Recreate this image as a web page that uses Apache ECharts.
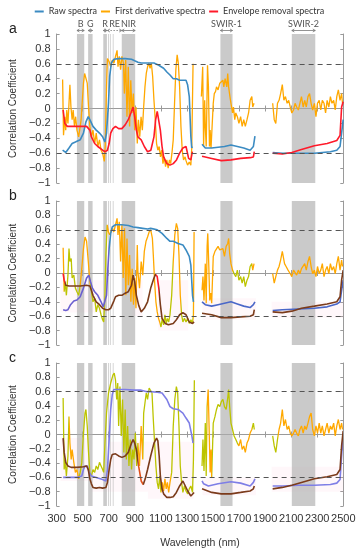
<!DOCTYPE html>
<html><head><meta charset="utf-8">
<script src="https://cdn.jsdelivr.net/npm/echarts@6/dist/echarts.min.js"></script>
<style>html,body{margin:0;padding:0;background:#fff}#c{width:359px;height:550px}</style>
</head><body><div id="c"></div>
<script>
// ---------- data ----------
const xTicks = [300,500,700,900,1100,1300,1500,1700,1900,2100,2300,2500];
const seriesNames = ['Raw spectra','First derivative spectra','Envelope removal spectra'];
const panelLetters = ['a','b','c'];
const bands = [[456,512],[542,576],[658,686],[695,701],[709,715],[731,737],[800,903],[1557,1650],[2105,2285]];
const bandLabels = [['B',456,512],['G',542,576],['R',658,686],['RE',690,800],['NIR',800,903],['SWIR-1',1557,1650],['SWIR-2',2105,2285]];
const thresholds = [0.6,-0.6];
const pinkB = [[330,700,-0.55,-0.1],[880,960,-0.6,-0.1],[1080,1310,-0.8,-0.1],[1420,1830,-0.65,-0.35],[1950,2500,-0.62,-0.4]];
const pinkC = [[330,560,-0.65,-0.05],[560,700,-0.8,-0.5],[700,1000,-0.8,-0.1],[1000,1350,-0.9,-0.1],[1420,1830,-0.85,-0.6],[1950,2500,-0.8,-0.45]];

const rawA = [[346,-0.56],[370,-0.59],[395,-0.53],[419,-0.47],[444,-0.45],[481,-0.42],[506,-0.33],[525,-0.18],[543,-0.11],[555,-0.15],[579,-0.24],[604,-0.29],[629,-0.33],[653,-0.38],[670,-0.45],[683,-0.33],[698,0.07],[707,0.43],[720,0.61],[739,0.66],[776,0.67],[826,0.67],[875,0.66],[899,0.64],[924,0.62],[949,0.61],[998,0.61],[1047,0.61],[1084,0.58],[1121,0.54],[1146,0.49],[1170,0.45],[1195,0.40],[1220,0.40],[1244,0.38],[1269,0.38],[1293,0.38],[1305,0.32],[1318,0.16],[1323,-0.06],[1330,-0.37],[1337,-0.53],[1342,-0.51],
[1380,'-'],
[1416,-0.48],[1441,-0.53],[1490,-0.53],[1539,-0.52],[1588,-0.51],[1638,-0.49],[1687,-0.51],[1736,-0.53],[1785,-0.56],[1798,-0.58],[1810,-0.51],[1822,-0.37],
[1890,'-'],
[1958,-0.59],[2032,-0.60],[2155,-0.60],[2278,-0.60],[2401,-0.58],[2450,-0.56],[2475,-0.51],[2487,-0.33],[2499,-0.15]];

const derivA = [[346,0.39],[353,-0.36],[363,-0.11],[370,-0.29],[378,-0.02],[387,-0.20],[395,0.07],[402,0.32],[410,0.02],[419,-0.15],[427,-0.02],[437,-0.24],[446,-0.11],[456,-0.29],[469,-0.38],[481,-0.24],[488,-0.15],[496,0.07],[506,0.34],[515,0.47],[525,0.49],[535,0.34],[545,0.02],[555,-0.24],[567,-0.38],[579,-0.29],[592,-0.47],[604,-0.33],[616,-0.51],[629,-0.42],[641,-0.56],[653,-0.60],[666,-0.71],[673,-0.51],[683,0.29],[690,0.67],[703,0.63],[715,0.56],[727,0.65],[740,0.61],[752,0.70],[764,0.78],[771,0.56],[781,0.70],[791,0.52],[801,0.70],[813,0.61],[820,0.20],[830,0.65],[840,-0.11],[850,0.56],[860,-0.24],[869,0.38],[879,-0.06],[889,0.20],[899,-0.29],[909,0.02],[919,-0.47],[928,-0.15],[938,-0.38],[948,-0.11],[958,-0.29],[968,0.02],[978,0.29],[988,0.47],[998,0.56],[1008,0.61],[1017,0.54],[1027,0.61],[1037,0.43],[1047,0.11],[1057,-0.15],[1067,-0.47],[1077,-0.56],[1087,-0.51],[1097,-0.65],[1106,-0.56],[1116,-0.74],[1126,-0.65],[1136,-0.78],[1146,-0.69],[1156,-0.80],[1166,-0.69],[1175,-0.74],[1185,-0.60],[1195,-0.42],[1205,0.07],[1215,0.52],[1225,0.72],[1234,0.61],[1244,0.29],[1254,-0.24],[1264,-0.56],[1274,-0.69],[1286,-0.65],[1293,-0.70],[1305,-0.76],[1318,-0.72],[1330,-0.76],[1337,-0.53],[1347,0.60],
[1380,'-'],
[1411,0.16],[1421,0.56],[1428,-0.51],[1436,0.11],[1441,-0.24],[1448,-0.51],[1458,0.58],[1465,0.29],[1473,-0.51],[1478,-0.29],[1485,-0.53],[1490,-0.51],[1502,0.07],[1510,0.20],[1520,0.23],[1527,0.29],[1539,0.25],[1552,0.34],[1564,0.32],[1576,0.38],[1583,0.29],[1593,0.40],[1606,0.29],[1613,0.47],[1620,0.29],[1630,0.16],[1638,0.07],[1650,-0.06],[1657,0.02],[1667,-0.15],[1675,-0.06],[1687,-0.11],[1699,-0.20],[1712,-0.11],[1724,-0.24],[1736,-0.15],[1748,-0.24],[1761,-0.15],[1773,-0.06],[1785,0.11],[1798,0.16],[1805,0.02],[1815,0.07],
[1890,'-'],
[1958,0.07],[1970,-0.15],[1982,-0.20],[1995,0.07],[2007,0.11],[2019,0.20],[2032,0.32],[2044,0.11],[2056,0.16],[2069,0.07],[2081,0.11],[2093,0.02],[2105,-0.06],[2118,-0.02],[2130,0.07],[2142,0.02],[2155,-0.02],[2167,0.07],[2179,0.16],[2192,0.02],[2204,0.11],[2216,0.02],[2229,0.16],[2241,0.20],[2253,0.07],[2265,-0.02],[2278,0.07],[2290,-0.11],[2302,0.07],[2315,0.11],[2327,-0.02],[2339,0.11],[2352,0.07],[2364,-0.06],[2376,0.11],[2389,0.02],[2401,0.16],[2413,0.07],[2426,0.11],[2438,-0.02],[2450,0.16],[2462,0.25],[2475,0.11],[2487,0.20],[2494,0.07]];

const envA = [[350,-0.02],[363,-0.20],[382,-0.24],[450,-0.24],[530,-0.24],[555,-0.29],[567,-0.38],[592,-0.47],[616,-0.51],[653,-0.56],[673,-0.58],[690,-0.56],[703,-0.47],[715,-0.33],[732,-0.27],[752,-0.24],[776,-0.27],[801,-0.27],[826,-0.22],[850,-0.15],[870,-0.06],[887,0.02],[899,-0.11],[912,-0.29],[924,-0.38],[949,-0.42],[973,-0.51],[998,-0.58],[1023,-0.56],[1047,-0.38],[1060,-0.15],[1072,-0.04],[1084,-0.06],[1096,-0.29],[1109,-0.51],[1121,-0.65],[1146,-0.74],[1170,-0.76],[1195,-0.74],[1220,-0.69],[1244,-0.60],[1269,-0.53],[1293,-0.51],[1313,-0.67],[1330,-0.69],[1342,-0.58],
[1380,'-'],
[1416,-0.64],[1490,-0.67],[1564,-0.70],[1638,-0.69],[1712,-0.67],[1785,-0.66],[1810,-0.65],[1817,-0.58],
[1890,'-'],
[1958,-0.60],[2032,-0.61],[2105,-0.59],[2179,-0.55],[2278,-0.50],[2376,-0.47],[2450,-0.43],[2475,-0.36],[2487,0.02],[2499,0.09]];

const rawB = [[350,-0.51],[370,-0.52],[387,-0.51],[407,-0.44],[432,-0.39],[456,-0.375],[481,-0.33],[506,-0.21],[530,-0.07],[547,-0.03],[560,-0.12],[575,-0.21],[592,-0.26],[616,-0.31],[641,-0.40],[658,-0.47],[671,-0.49],[683,-0.31],[693,0.06],[703,0.34],[715,0.55],[727,0.64],[752,0.67],[801,0.67],[850,0.66],[887,0.64],[924,0.63],[961,0.62],[998,0.61],[1022,0.62],[1072,0.60],[1109,0.55],[1146,0.48],[1170,0.44],[1195,0.44],[1232,0.41],[1269,0.39],[1293,0.32],[1318,0.23],[1330,0.11],[1343,-0.31],[1350,-0.40],
[1380,'-'],
[1416,-0.40],[1441,-0.44],[1490,-0.46],[1539,-0.44],[1588,-0.42],[1638,-0.40],[1687,-0.43],[1736,-0.46],[1785,-0.48],[1798,-0.49],[1810,-0.44],[1822,-0.40],
[1890,'-'],
[1958,-0.52],[2032,-0.51],[2155,-0.50],[2278,-0.49],[2376,-0.47],[2450,-0.43],[2475,-0.40],[2487,-0.24],[2499,-0.10]];

const derivB = [[350,0.35],[358,-0.26],[365,-0.12],[375,-0.31],[387,-0.03],[395,0.34],[402,0.16],[412,0.20],[419,-0.07],[432,-0.03],[444,-0.21],[456,-0.26],[469,-0.31],[481,-0.17],[493,0.06],[506,0.34],[518,0.50],[530,0.44],[543,0.16],[555,-0.12],[567,-0.26],[579,-0.40],[592,-0.35],[604,-0.54],[616,-0.44],[629,-0.49],[641,-0.58],[653,-0.65],[661,-0.68],[671,-0.31],[678,0.25],[688,0.67],[698,0.57],[707,0.53],[717,0.57],[727,0.62],[739,0.57],[752,0.67],[764,0.76],[771,0.53],[781,0.71],[791,0.16],[801,0.67],[811,-0.07],[821,0.62],[831,-0.31],[840,0.48],[850,-0.17],[860,0.25],[870,-0.40],[880,0.06],[890,-0.44],[899,-0.07],[909,-0.49],[919,0.39],[924,0.02],[936,-0.21],[949,0.16],[961,-0.03],[973,0.30],[986,0.44],[998,0.50],[1010,0.57],[1022,0.60],[1035,0.48],[1042,0.25],[1052,-0.12],[1062,-0.40],[1072,-0.54],[1082,-0.63],[1091,-0.68],[1101,-0.75],[1111,-0.63],[1121,-0.72],[1131,-0.58],[1141,-0.70],[1150,-0.63],[1160,-0.68],[1170,-0.58],[1183,-0.31],[1195,0.16],[1207,0.53],[1219,0.69],[1229,0.62],[1239,0.25],[1249,-0.31],[1259,-0.58],[1269,-0.68],[1281,-0.63],[1293,-0.68],[1306,-0.63],[1318,-0.70],[1330,-0.65],[1343,-0.70],[1350,-0.58],[1355,0.57],
[1380,'-'],
[1416,-0.24],[1423,-0.05],[1431,-0.38],[1441,0.13],[1448,-0.42],[1455,0.37],[1460,0.55],[1468,0.09],[1475,-0.38],[1483,-0.28],[1490,-0.42],[1502,0.23],[1515,0.30],[1527,0.32],[1539,0.37],[1552,0.32],[1564,0.30],[1576,0.34],[1588,0.23],[1601,0.37],[1613,0.41],[1620,0.48],[1628,0.27],[1638,0.13],[1650,0.04],[1662,-0.01],[1675,-0.05],[1687,0.04],[1699,-0.10],[1712,-0.05],[1724,-0.14],[1736,-0.05],[1748,-0.19],[1761,-0.10],[1773,-0.05],[1785,0.09],[1798,0.13],[1805,0.04],[1815,0.13],
[1890,'-'],
[1958,-0.01],[1970,-0.14],[1982,-0.05],[1995,0.04],[2007,0.09],[2019,0.18],[2032,0.30],[2039,0.23],[2049,0.13],[2061,0.09],[2076,0.04],[2093,-0.01],[2105,-0.05],[2118,0.04],[2130,0.02],[2142,-0.03],[2155,0.04],[2167,-0.01],[2179,0.06],[2192,0.04],[2204,0.13],[2216,0.04],[2229,0.16],[2241,0.23],[2253,0.09],[2265,-0.01],[2278,0.04],[2290,-0.05],[2302,0.09],[2315,-0.01],[2327,0.04],[2339,0.13],[2352,-0.05],[2364,0.04],[2376,0.09],[2389,-0.01],[2401,0.13],[2413,0.04],[2426,0.09],[2438,-0.01],[2450,0.13],[2462,0.23],[2475,0.04],[2487,0.18],[2494,0.09]];

const envB = [[350,-0.01],[358,-0.10],[370,-0.17],[395,-0.18],[432,-0.18],[481,-0.18],[530,-0.17],[555,-0.18],[567,-0.24],[579,-0.31],[604,-0.40],[629,-0.44],[653,-0.49],[678,-0.51],[698,-0.51],[715,-0.49],[727,-0.44],[739,-0.39],[752,-0.33],[776,-0.31],[801,-0.31],[826,-0.28],[850,-0.26],[875,-0.17],[887,-0.03],[899,-0.12],[912,-0.31],[930,-0.45],[949,-0.54],[973,-0.49],[998,-0.40],[1022,-0.21],[1047,-0.07],[1059,-0.02],[1072,-0.05],[1084,-0.21],[1096,-0.44],[1109,-0.63],[1133,-0.70],[1158,-0.72],[1195,-0.70],[1219,-0.65],[1244,-0.58],[1269,-0.55],[1293,-0.58],[1318,-0.68],[1343,-0.70],[1355,-0.68],
[1380,'-'],
[1416,-0.56],[1490,-0.58],[1564,-0.62],[1638,-0.62],[1712,-0.61],[1785,-0.60],[1810,-0.58],[1817,-0.51],
[1890,'-'],
[1958,-0.54],[2032,-0.55],[2105,-0.53],[2179,-0.49],[2278,-0.46],[2376,-0.43],[2450,-0.40],[2475,-0.33],[2487,-0.10],[2499,0.04]];

const rawC = [[350,-0.60],[407,-0.60],[456,-0.60],[493,-0.58],[506,-0.49],[518,-0.44],[535,-0.44],[550,-0.53],[567,-0.58],[604,-0.60],[653,-0.63],[678,-0.65],[690,-0.49],[703,-0.07],[715,0.35],[727,0.56],[739,0.63],[752,0.63],[826,0.63],[899,0.62],[949,0.62],[986,0.60],[1022,0.60],[1072,0.59],[1109,0.58],[1121,0.60],[1146,0.49],[1170,0.39],[1195,0.36],[1232,0.35],[1269,0.30],[1293,0.23],[1318,0.16],[1338,-0.02],[1347,-0.12],
[1380,'-'],
[1416,-0.65],[1428,-0.69],[1465,-0.72],[1539,-0.69],[1638,-0.66],[1712,-0.68],[1785,-0.72],[1798,-0.73],[1810,-0.67],[1822,-0.62],
[1890,'-'],
[1958,-0.72],[2032,-0.72],[2155,-0.71],[2278,-0.71],[2401,-0.70],[2450,-0.68],[2475,-0.63],[2487,-0.30],[2499,-0.02]];

const derivC = [[350,0.51],[358,-0.49],[365,-0.35],[375,-0.58],[387,-0.30],[395,0.25],[402,-0.12],[412,-0.35],[419,-0.21],[432,-0.39],[444,-0.53],[456,-0.49],[469,-0.62],[481,-0.53],[493,-0.39],[506,0.02],[518,0.30],[525,0.35],[535,0.12],[545,-0.25],[555,-0.53],[567,-0.58],[579,-0.49],[592,-0.53],[604,-0.44],[616,-0.49],[629,-0.39],[641,-0.44],[653,-0.49],[661,-0.53],[671,-0.12],[683,0.30],[698,0.58],[715,0.72],[732,0.83],[742,0.86],[752,0.76],[761,0.49],[769,0.72],[776,0.12],[786,0.67],[796,-0.02],[806,0.49],[816,-0.25],[826,0.35],[835,-0.35],[845,0.12],[855,-0.44],[865,-0.07],[875,-0.49],[884,-0.21],[894,-0.35],[904,0.02],[914,-0.44],[924,-0.12],[936,-0.44],[949,0.12],[961,-0.35],[968,0.30],[978,0.44],[988,0.58],[998,0.49],[1010,0.65],[1022,0.67],[1032,0.58],[1042,0.21],[1052,-0.12],[1062,-0.44],[1072,-0.67],[1082,-0.76],[1091,-0.58],[1101,-0.81],[1111,-0.67],[1121,-0.79],[1131,-0.62],[1141,-0.76],[1150,-0.67],[1160,-0.81],[1170,-0.67],[1183,-0.53],[1195,0.12],[1207,0.49],[1219,0.67],[1229,0.58],[1239,0.12],[1249,-0.44],[1259,-0.67],[1269,-0.81],[1281,-0.72],[1293,-0.79],[1306,-0.83],[1318,-0.76],[1330,-0.72],[1343,-0.81],[1350,-0.35],[1357,0.76],
[1380,'-'],
[1416,-0.44],[1423,-0.07],[1431,-0.51],[1441,0.16],[1448,-0.58],[1455,0.39],[1463,0.63],[1470,0.12],[1478,-0.53],[1485,-0.21],[1490,-0.60],[1502,0.16],[1515,0.25],[1527,0.35],[1539,0.42],[1552,0.39],[1564,0.46],[1576,0.49],[1588,0.39],[1601,0.35],[1613,0.51],[1620,0.63],[1628,0.39],[1638,0.16],[1650,0.07],[1662,-0.02],[1675,-0.07],[1687,-0.12],[1699,-0.16],[1712,-0.07],[1724,-0.21],[1736,-0.16],[1748,-0.25],[1761,-0.12],[1773,-0.07],[1785,0.02],[1798,0.07],[1810,0.16],[1817,0.07],
[1890,'-'],
[1958,-0.02],[1970,-0.16],[1982,-0.25],[1995,-0.07],[2007,0.07],[2019,0.16],[2032,0.35],[2044,0.12],[2056,0.21],[2069,0.07],[2081,0.12],[2093,0.02],[2105,-0.02],[2118,0.02],[2130,0.07],[2142,0.02],[2155,-0.02],[2167,0.07],[2179,0.12],[2192,0.02],[2204,0.12],[2216,0.07],[2229,0.16],[2241,0.25],[2253,0.30],[2265,0.07],[2278,-0.02],[2290,0.12],[2302,0.02],[2315,0.16],[2327,0.02],[2339,0.12],[2352,-0.02],[2364,0.07],[2376,0.16],[2389,0.02],[2401,0.12],[2413,0.07],[2426,0.16],[2438,-0.02],[2450,0.12],[2462,0.21],[2475,0.07],[2487,0.16],[2494,0.07]];

const envC = [[350,-0.05],[358,-0.25],[370,-0.39],[387,-0.44],[412,-0.46],[456,-0.46],[506,-0.45],[530,-0.44],[543,-0.49],[555,-0.62],[567,-0.69],[579,-0.74],[604,-0.75],[629,-0.74],[653,-0.75],[678,-0.74],[690,-0.67],[703,-0.49],[715,-0.35],[727,-0.28],[752,-0.27],[776,-0.30],[801,-0.32],[826,-0.30],[850,-0.25],[875,-0.12],[887,-0.07],[899,-0.12],[912,-0.21],[930,-0.45],[949,-0.65],[965,-0.70],[980,-0.62],[998,-0.49],[1022,-0.30],[1047,-0.12],[1067,-0.05],[1077,-0.09],[1087,-0.30],[1096,-0.58],[1109,-0.76],[1121,-0.83],[1146,-0.88],[1170,-0.88],[1195,-0.87],[1219,-0.81],[1244,-0.72],[1269,-0.65],[1281,-0.67],[1306,-0.79],[1330,-0.86],[1355,-0.81],
[1380,'-'],
[1416,-0.76],[1490,-0.81],[1564,-0.83],[1638,-0.83],[1712,-0.81],[1785,-0.79],[1810,-0.76],[1817,-0.72],
[1890,'-'],
[1958,-0.76],[2032,-0.74],[2105,-0.71],[2179,-0.67],[2278,-0.62],[2376,-0.59],[2450,-0.56],[2475,-0.49],[2487,-0.16],[2499,0.05]];

// ---------- styling ----------
const C_RAW = '#3b8bc2', C_DER = '#ffa800', C_ENV = '#ff1a2a';
const C_YG = '#bcc400', C_BROWN = '#7b3b1b', C_PURP = '#6b5fd0', C_LAV = '#7e7ee6';
const colRawB = [[300,700,C_PURP],[700,1380,C_RAW],[1380,2501,'#4a67c8']];
const colDerB = [[300,355,C_DER],[355,480,C_YG],[480,560,C_DER],[560,690,C_YG],[690,1095,C_DER],[1095,1190,C_YG],[1190,1255,C_DER],[1255,1345,C_YG],[1345,1650,C_DER],[1650,1800,C_YG],[1800,2501,C_DER]];
const colEnvB = [[300,362,C_ENV],[362,1060,C_BROWN],[1060,1085,C_ENV],[1085,2501,C_BROWN]];
const colRawC = [[300,2501,C_LAV]];
const colDerC = [[300,395,C_YG],[395,470,C_DER],[470,925,C_YG],[925,965,C_DER],[965,1100,C_YG],[1100,1180,C_DER],[1180,1455,C_YG],[1455,1495,C_DER],[1495,1690,C_YG],[1690,1800,C_DER],[1800,2000,C_YG],[2000,2501,C_DER]];
const colEnvC = [[300,925,C_BROWN],[925,965,'#e0501a'],[965,2501,C_BROWN]];

const FONT = 'Liberation Sans';
const NARROW = 'Lato';
const gridTops = [34,201,363], gridHeights = [149,144,144];
const L = 45.5, W = 297.8;

const chart = echarts.init(document.getElementById('c'), null, {renderer:'canvas'});
const grid = [], xAxis = [], yAxis = [], series = [], visualMap = [];
const fmtY = v => { const r = Math.round(v*10)/10; return r < 0 ? '\u2212' + Math.abs(r) : String(r); };

for (let i = 0; i < 3; i++) {
  grid.push({left:L, top:gridTops[i], width:W, height:gridHeights[i], containLabel:false});
  const axLine = {show:true, lineStyle:{color:'#9a9a9a', width:1}};
  xAxis.push({gridIndex:i, type:'value', min:300, max:2500, position:'bottom', axisLine:axLine,
    axisTick:{show:true, inside:true, length:3, customValues:xTicks, lineStyle:{color:'#9a9a9a'}},
    axisLabel:{show:i===2, customValues:xTicks, formatter:v => String(v), showMinLabel:true, showMaxLabel:true, hideOverlap:false,
      fontSize:11, color:'#333', margin:7, fontFamily:FONT},
    splitLine:{show:false},
    name: i===2 ? 'Wavelength (nm)' : '', nameLocation:'middle', nameGap:32,
    nameTextStyle:{fontSize:10.5, color:'#333', fontFamily:FONT}});
  xAxis.push({gridIndex:i, type:'value', min:300, max:2500, position:'top', axisLine:axLine,
    axisTick:{show:true, inside:true, length:3, customValues:xTicks, lineStyle:{color:'#9a9a9a'}},
    axisLabel:{show:false}, splitLine:{show:false}});
  yAxis.push({gridIndex:i, type:'value', min:-1, max:1, interval:0.2, position:'left', axisLine:axLine,
    axisTick:{show:true, inside:true, length:3, lineStyle:{color:'#9a9a9a'}},
    axisLabel:{formatter:fmtY, fontSize:11, color:'#333', margin:6, fontFamily:FONT},
    splitLine:{show:false},
    name:'Correlation Coefficient', nameLocation:'middle', nameGap:33,
    nameTextStyle:{fontSize:10, color:'#333', fontFamily:FONT}});
  yAxis.push({gridIndex:i, type:'value', min:-1, max:1, interval:0.2, position:'right', axisLine:axLine,
    axisTick:{show:true, inside:true, length:3, lineStyle:{color:'#9a9a9a'}},
    axisLabel:{show:false}, splitLine:{show:false}});
}

function addLine(name, data, gi, color, width, z, pieces) {
  const idx = series.length;
  series.push({type:'line', name, data, xAxisIndex:gi*2, yAxisIndex:gi*2, showSymbol:false, symbol:'none',
    connectNulls:false, color, lineStyle:{width, color: pieces ? undefined : color}, z, silent:true, animation:false});
  if (pieces) {
    visualMap.push({type:'piecewise', show:false, seriesIndex:idx, dimension:0,
      pieces: pieces.map(p => ({gte:p[0], lt:p[1], color:p[2]}))});
  }
}
function addOverlay(gi, pink) {
  if (pink) {
    series.push({type:'line', data:[], xAxisIndex:gi*2, yAxisIndex:gi*2, z:1, silent:true,
      markArea:{silent:true, itemStyle:{color:'rgba(255,170,205,0.09)'},
        data: pink.map(p => [{xAxis:p[0], yAxis:p[2]}, {xAxis:p[1], yAxis:p[3]}])}});
  }
  series.push({type:'line', data:[], xAxisIndex:gi*2, yAxisIndex:gi*2, z:10, silent:true,
    markArea:{silent:true, itemStyle:{color:'rgba(175,175,175,0.66)'},
      data: bands.map(b => [{xAxis:b[0]}, {xAxis:b[1]}])},
    markLine:{silent:true, symbol:'none', label:{show:false},
      lineStyle:{type:[5,4], color:'#555', width:1}, data: thresholds.map(v => ({yAxis:v}))}});
}

// panel a
addLine(seriesNames[1], derivA, 0, C_DER, 1.3, 2);
addLine(seriesNames[0], rawA, 0, C_RAW, 1.6, 3);
addLine(seriesNames[2], envA, 0, C_ENV, 1.6, 4);
addOverlay(0, null);
// panel b
addLine(seriesNames[1], derivB, 1, C_DER, 1.3, 2, colDerB);
addLine(seriesNames[0], rawB, 1, C_RAW, 1.6, 3, colRawB);
addLine(seriesNames[2], envB, 1, C_ENV, 1.6, 4, colEnvB);
addOverlay(1, pinkB);
// panel c
addLine(seriesNames[1], derivC, 2, C_DER, 1.3, 2, colDerC);
addLine(seriesNames[0], rawC, 2, C_RAW, 1.6, 3, colRawC);
addLine(seriesNames[2], envC, 2, C_ENV, 1.6, 4, colEnvC);
addOverlay(2, pinkC);

chart.setOption({
  animation:false,
  backgroundColor:'#fff',
  title: panelLetters.map((t,i) => ({text:t, left:4, top:gridTops[i]-17,
    textStyle:{fontSize:14, fontWeight:'normal', color:'#222', fontFamily:FONT}})),
  legend:{top:2, left:'center', data:seriesNames, icon:'rect', itemWidth:9, itemHeight:2, itemGap:4,
    textStyle:{fontSize:9, color:'#333', fontFamily:NARROW}, selectedMode:false},
  grid, xAxis, yAxis, visualMap, series
});

// band labels with arrows above panel a (positions from the axis scales)
const g = [];
bandLabels.forEach(([t,x1,x2]) => {
  const p1 = chart.convertToPixel({xAxisIndex:0, yAxisIndex:0}, [x1, 1]);
  const p2 = chart.convertToPixel({xAxisIndex:0, yAxisIndex:0}, [x2, 1]);
  const cx = (p1[0]+p2[0])/2, y = p1[1];
  const ay = y - 3.5;
  g.push({type:'text', x:cx, y:y-10, silent:true,
    style:{text:t, fill:'#555', fontSize:9, fontFamily:NARROW, align:'center', verticalAlign:'middle', textAlign:'center', textVerticalAlign:'middle'}});
  g.push({type:'line', silent:true, shape:{x1:p1[0], y1:ay, x2:p2[0], y2:ay},
    style:{stroke:'#777', lineWidth:0.8, lineDash: t==='RE' ? [1.5,1.5] : null}});
  g.push({type:'polyline', silent:true, shape:{points:[[p1[0]+2.5,ay-1.5],[p1[0],ay],[p1[0]+2.5,ay+1.5]]}, style:{stroke:'#777', fill:null, lineWidth:0.8}});
  g.push({type:'polyline', silent:true, shape:{points:[[p2[0]-2.5,ay-1.5],[p2[0],ay],[p2[0]-2.5,ay+1.5]]}, style:{stroke:'#777', fill:null, lineWidth:0.8}});
});
chart.setOption({graphic: g});
</script></body></html>
